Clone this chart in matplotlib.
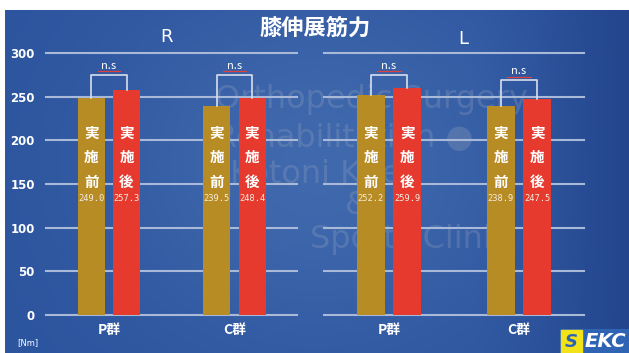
import numpy as np
import matplotlib
matplotlib.use("Agg")
import matplotlib.pyplot as plt
from matplotlib.patches import Rectangle

plt.rcParams['font.family'] = ['Noto Sans CJK JP', 'DejaVu Sans']

# Knee extension strength, before / after, by group and side
groups = ["P群", "C群"]
sides = ["R", "L"]
before_R = [249.0, 239.5]
after_R = [257.3, 248.4]
before_L = [252.2, 238.9]
after_L = [259.9, 247.5]
yticks = [0, 50, 100, 150, 200, 250, 300]
bar_labels = ["実施前", "実施後"]
title = "膝伸展筋力"
unit = "[Nm]"
sig = "n.s"

W, H = 629, 353
fig = plt.figure(figsize=(W / 100, H / 100), dpi=100)
fig.patch.set_facecolor("white")

# background panel with a soft blue gradient
bg = fig.add_axes([5 / W, 0, 1 - 5 / W, (H - 10) / H])
bg.set_axis_off()
xx = np.linspace(0, 1, 300)
yy = np.linspace(0, 1, 200)
X, Y = np.meshgrid(xx, yy)
c0 = np.array([0.17, 0.33, 0.62])
c1 = np.array([0.25, 0.41, 0.68])
c2 = np.array([0.14, 0.27, 0.55])
mid = np.exp(-((X - 0.5) ** 2) / 0.12 - ((Y - 0.55) ** 2) / 0.3)
edge = np.clip((X - 0.75) / 0.25, 0, 1) ** 1.5
img = c0[None, None, :] * (1 - mid[..., None]) + c1[None, None, :] * mid[..., None]
img = img * (1 - edge[..., None]) + c2[None, None, :] * edge[..., None]
bg.imshow(img, extent=[0, 1, 0, 1], aspect="auto", origin="lower")
bg.set_xlim(0, 1)
bg.set_ylim(0, 1)

# faint clinic watermark
wm_lines = [("Orthopedic Surgery", 0.337, 0.74), ("Rehabilitation ●", 0.337, 0.625),
            ("Kotoni Knee", 0.36, 0.52), ("&", 0.545, 0.43), ("Sports Clinic", 0.489, 0.33)]
for s, x, y in wm_lines:
    bg.text(x, y, s, color=(0.58, 0.63, 0.74), alpha=0.3, fontsize=23,
            family="DejaVu Sans", ha="left", va="center", zorder=1)

gold = "#b88c25"
red = "#e63a2f"
grid_c = "#a9bad8"
bw = 0.215
off = 0.14

panels = [
    (46, 297, 109, before_R, after_R, [275, 275]),
    (324, 584, 389, before_L, after_L, [275, 269]),
]

y0_px, y300_px = 315, 53
ax_bottom = (H - y0_px) / H
ax_height = (y0_px - y300_px) / H

for i, (xl, xr, c0px, bef, aft, br_top) in enumerate(panels):
    ax = fig.add_axes([xl / W, ax_bottom, (xr - xl) / W, ax_height])
    ax.patch.set_alpha(0)
    lo = -(c0px - xl) / ((xr - xl) / 2.0)
    ax.set_xlim(lo, lo + 2.0)
    ax.set_ylim(0, 300)
    for s in ax.spines.values():
        s.set_visible(False)
    ax.set_yticks(yticks)
    ax.tick_params(length=0)
    ax.grid(axis="y", color=grid_c, lw=1.5, zorder=0, clip_on=False)
    ax.set_axisbelow(True)
    ax.set_xticks([0, 1])
    ax.set_xticklabels(groups, color="white", fontsize=10, fontweight="bold")
    ax.tick_params(axis="x", pad=6)
    if i == 0:
        ax.set_yticklabels([str(v) for v in yticks], color="white", fontsize=8.5,
                           fontweight="bold", family="DejaVu Sans")
        ax.tick_params(axis="y", pad=8)
    else:
        ax.set_yticklabels([])

    xs = np.arange(len(groups))
    ax.bar(xs - off, bef, width=bw, color=gold, zorder=3)
    ax.bar(xs + off, aft, width=bw, color=red, zorder=3)

    for j in range(len(groups)):
        for xc, label, val in ((j - off, bar_labels[0], bef[j]),
                               (j + off, bar_labels[1], aft[j])):
            ax.text(xc, 218, "\n".join(label), color="white", fontsize=10.5,
                    fontweight="bold", ha="center", va="top", linespacing=1.68,
                    zorder=4)
            ax.text(xc, 133, f"{val:.1f}", color="#f3ece0", fontsize=6.3,
                    ha="center", va="center", zorder=4, family="DejaVu Sans Mono")
        # significance bracket
        top = br_top[j]
        ax.plot([j - off, j - off, j + off, j + off], [bef[j], top, top, aft[j]],
                color="#d8dfee", lw=1.2, zorder=4, clip_on=False)
        ax.text(j, top + 10, sig, color="white", fontsize=8, ha="center",
                va="center", zorder=4, clip_on=False)
        ax.plot([j - 0.09, j + 0.09], [top + 4.0, top + 4.0], color="#e0413a",
                lw=0.9, zorder=4, clip_on=False)

    fig.text(((166 if i == 0 else 463)) / W, 1 - (37 if i == 0 else 39) / H, sides[i],
             color="white", fontsize=13, ha="center", va="center", family="DejaVu Sans")

fig.text(315 / W, 1 - 28 / H, title, color="white", fontsize=16, fontweight="bold",
         ha="center", va="center")
fig.text(28 / W, 1 - 343 / H, unit, color="white", fontsize=6, ha="center",
         va="center", family="DejaVu Sans")

# logo in the lower right corner
lg = fig.add_axes([560 / W, 0, 69 / W, 24 / H])
lg.set_axis_off()
lg.set_xlim(0, 69)
lg.set_ylim(0, 24)
lg.add_patch(Rectangle((0, 0), 69, 24, color="#2f64b4"))
lg.add_patch(Rectangle((1, 0), 21, 23, color="#f2e21a"))
lg.text(11.5, 11, "S", color="#2f64b4", fontsize=13, fontweight="bold",
        ha="center", va="center", style="italic", family="DejaVu Sans")
lg.text(45, 11.5, "EKC", color="white", fontsize=14, fontweight="bold",
        ha="center", va="center", style="italic", family="DejaVu Sans")

fig.savefig("out.png", dpi=100, facecolor=fig.get_facecolor())
